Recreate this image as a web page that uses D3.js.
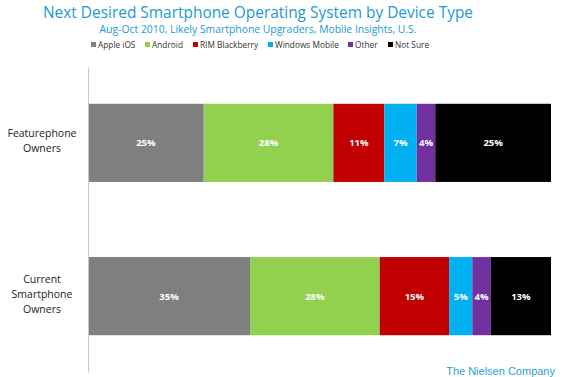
<!DOCTYPE html>
<html><head><meta charset="utf-8">
<script src="https://cdn.jsdelivr.net/npm/d3@7/dist/d3.min.js"></script>
<style>body{margin:0;background:#fff;}svg{display:block;}</style>
</head><body>
<svg id="c" width="563" height="377"></svg>
<script>
const categories = [["Featurephone","Owners"],["Current","Smartphone","Owners"]];
const categoryKeys = ["Featurephone Owners","Current Smartphone Owners"];
const seriesNames = ["Apple iOS","Android","RIM Blackberry","Windows Mobile","Other","Not Sure"];
const featurephone = [25,28,11,7,4,25];
const smartphone = [35,28,15,5,4,13];
const colors = ["#7f7f7f","#92d050","#c00000","#00b0f0","#7030a0","#000000"];

const svg = d3.select("#c");
const x = d3.scaleLinear().domain([0,100]).range([88,551]);
const y = d3.scaleBand().domain(categoryKeys).range([67,372]).paddingInner(0.49).paddingOuter(0.24);

const rows = [featurephone, smartphone];
const data = categoryKeys.map((k,i)=>{const o={cat:k}; seriesNames.forEach((s,j)=>o[s]=rows[i][j]); return o;});
const stack = d3.stack().keys(seriesNames)(data);

// title
svg.append("text").attr("x",258).attr("y",18).attr("text-anchor","middle")
  .attr("font-family","Open Sans").attr("font-size",16.2).attr("fill","#1b9ad6")
  .attr("textLength",430).attr("lengthAdjust","spacingAndGlyphs")
  .text("Next Desired Smartphone Operating System by Device Type");
svg.append("text").attr("x",258).attr("y",33).attr("text-anchor","middle")
  .attr("font-family","Open Sans").attr("font-size",10.6).attr("fill","#1b9ad6")
  .attr("textLength",317).attr("lengthAdjust","spacingAndGlyphs")
  .text("Aug-Oct 2010, Likely Smartphone Upgraders, Mobile Insights, U.S.");

// legend
const legX = [91,145,193,268,348,388];
const lg = svg.append("g");
seriesNames.forEach((s,i)=>{
  lg.append("rect").attr("x",legX[i]).attr("y",42).attr("width",5).attr("height",5).attr("fill",colors[i]);
  lg.append("text").attr("x",legX[i]+7).attr("y",48).attr("font-family","Open Sans").attr("font-size",8.3)
    .attr("fill","#333").text(s);
});

// bars
stack.forEach((layer,i)=>{
  svg.append("g").selectAll("rect").data(layer).join("rect")
    .attr("x",d=>x(d[0])).attr("width",d=>x(d[1])-x(d[0]))
    .attr("y",d=>y(d.data.cat)).attr("height",y.bandwidth())
    .attr("fill",colors[i]);
  svg.append("g").selectAll("text").data(layer).join("text")
    .attr("x",d=>(x(d[0])+x(d[1]))/2).attr("y",d=>y(d.data.cat)+y.bandwidth()/2+3.5)
    .attr("text-anchor","middle").attr("font-family","Open Sans").attr("font-weight","bold")
    .attr("font-size",9.5).attr("fill","#fff").text(d=>(d[1]-d[0])+"%");
});

// axis line
const ax = svg.append("g").attr("transform","translate(88,0)").call(d3.axisLeft(y).tickSize(0).tickFormat(""));
ax.select(".domain").attr("stroke","#c8c8c8");

// category labels
categoryKeys.forEach((k,i)=>{
  const lines = categories[i];
  const cy = y(k)+y.bandwidth()/2;
  const t = svg.append("text").attr("text-anchor","middle").attr("font-family","Open Sans")
    .attr("font-size",10.5).attr("fill","#222");
  lines.forEach((l,j)=>{
    t.append("tspan").attr("x",42).attr("y",cy - (lines.length-1)*7.5 + j*15 - 2).attr("dy","0.35em").text(l);
  });
});

svg.append("text").attr("x",555).attr("y",375).attr("text-anchor","end")
  .attr("font-family","Liberation Sans").attr("font-size",11).attr("fill","#2a9fd8")
  .text("The Nielsen Company");
</script>
</body></html>
